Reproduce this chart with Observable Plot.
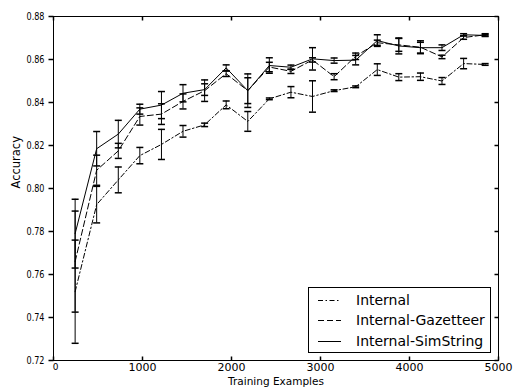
<!DOCTYPE html>
<html><head><meta charset="utf-8">
<script src="https://cdn.jsdelivr.net/npm/d3@7"></script>
<script src="https://cdn.jsdelivr.net/npm/@observablehq/plot@0.6"></script>
<style>
body{margin:0;background:#fff;}
#wrap{position:relative;width:515px;height:390px;font-family:"DejaVu Sans",sans-serif;}
#legend{position:absolute;left:308px;top:287px;width:181px;height:64px;border:1px solid #000;background:#fff;}
.row{position:absolute;left:0;height:20px;line-height:20px;font-size:14px;white-space:nowrap;color:#000;}
.row svg{position:absolute;left:9px;top:9px;}
.row span{position:absolute;left:47px;top:0;}
</style></head><body><div id="wrap"></div>
<script>
const trainSizes = [243, 485, 728, 970, 1213, 1455, 1698, 1940, 2183, 2425, 2668, 2910, 3153, 3395, 3638, 3880, 4123, 4365, 4608, 4850];

const internalMean = [0.752, 0.7925, 0.804, 0.8153, 0.8205, 0.8266, 0.8296, 0.8389, 0.8312, 0.8417, 0.8448, 0.8428, 0.8455, 0.8473, 0.8553, 0.8518, 0.852, 0.850, 0.8581, 0.8577];
const internalErr  = [0.024, 0.0085, 0.006, 0.0038, 0.007, 0.0027, 0.0008, 0.0018, 0.0046, 0.0004, 0.0026, 0.0073, 0.0004, 0.0004, 0.0027, 0.0016, 0.0017, 0.0016, 0.0024, 0.0004];

const gazetteerMean = [0.766, 0.8085, 0.8175, 0.8335, 0.8346, 0.8405, 0.8455, 0.8534, 0.8455, 0.8565, 0.8545, 0.8598, 0.852, 0.8615, 0.8678, 0.8668, 0.8657, 0.8612, 0.8702, 0.8715];
const gazetteerErr  = [0.0235, 0.007, 0.0035, 0.004, 0.0048, 0.0035, 0.005, 0.0013, 0.006, 0.0022, 0.001, 0.001, 0.0014, 0.0015, 0.0012, 0.003, 0.003, 0.0008, 0.0008, 0.0005];

const simStringMean = [0.779, 0.8185, 0.8253, 0.8369, 0.8388, 0.8443, 0.846, 0.8561, 0.8455, 0.8572, 0.8564, 0.8603, 0.8595, 0.8597, 0.8688, 0.8663, 0.8655, 0.8655, 0.8715, 0.8712];
const simStringErr  = [0.016, 0.008, 0.0064, 0.0023, 0.0063, 0.004, 0.0027, 0.0014, 0.0078, 0.0036, 0.001, 0.0052, 0.0012, 0.0022, 0.0027, 0.0037, 0.0025, 0.0013, 0.0005, 0.0005];

const seriesNames = ["Internal", "Internal-Gazetteer", "Internal-SimString"];
const xTicks = [0, 1000, 2000, 3000, 4000, 5000];
const yTicks = [0.72, 0.74, 0.76, 0.78, 0.80, 0.82, 0.84, 0.86, 0.88];

const dashes = ["5,2.5,1.5,2.5", "6,3", null];
const means = [internalMean, gazetteerMean, simStringMean];
const errs = [internalErr, gazetteerErr, simStringErr];

const series = seriesNames.map((name, s) => ({
  name, dash: dashes[s],
  rows: trainSizes.map((x, i) => ({series: name, x, y: means[s][i], lo: means[s][i] - errs[s][i], hi: means[s][i] + errs[s][i]}))
}));

const sym = (x1, y1, x2, y2) => ({draw(ctx) { ctx.moveTo(x1, y1); ctx.lineTo(x2, y2); }});
const capSym = sym(-3.5, 0, 3.5, 0);

const marks = [
  Plot.frame({stroke: "black", strokeWidth: 1}),
  Plot.axisX({ticks: xTicks, tickSize: 0, tickPadding: 3, tickFormat: d3.format("d"), label: null, fontSize: 11}),
  Plot.axisY({ticks: yTicks, tickSize: 0, tickPadding: 9, tickFormat: d3.format(".2f"), label: null, fontSize: 10.5}),
  Plot.dot(xTicks, {x: d => d, frameAnchor: "bottom", symbol: sym(0, 0, 0, -4), stroke: "black", fill: "none"}),
  Plot.dot(xTicks, {x: d => d, frameAnchor: "top", symbol: sym(0, 0, 0, 4), stroke: "black", fill: "none"}),
  Plot.dot(yTicks, {y: d => d, frameAnchor: "left", symbol: sym(0, 0, -5, 0), stroke: "black", fill: "none"}),
  Plot.dot(yTicks, {y: d => d, frameAnchor: "right", symbol: sym(0, 0, -4, 0), stroke: "black", fill: "none"}),
  Plot.text(["Accuracy"], {text: d => d, frameAnchor: "left", rotate: -90, dx: -37, fontSize: 11.5}),
  Plot.text(["Training Examples"], {text: d => d, frameAnchor: "bottom", dy: 24, fontSize: 10.5})
];
series.forEach(s => {
  marks.push(Plot.line(s.rows, {x: "x", y: "y", stroke: "black", strokeWidth: 1, strokeDasharray: s.dash}));
  marks.push(Plot.ruleX(s.rows, {x: "x", y1: "lo", y2: "hi", stroke: "black", strokeWidth: 1}));
  marks.push(Plot.dot(s.rows, {x: "x", y: "lo", symbol: capSym, stroke: "black", fill: "none"}));
  marks.push(Plot.dot(s.rows, {x: "x", y: "hi", symbol: capSym, stroke: "black", fill: "none"}));
});

const chart = Plot.plot({
  width: 515, height: 390,
  marginLeft: 53, marginRight: 17, marginTop: 16, marginBottom: 30,
  style: {fontFamily: "DejaVu Sans, sans-serif", fontSize: "11px", background: "#fff", color: "#000"},
  x: {domain: [0, 5000]},
  y: {domain: [0.72, 0.88]},
  marks
});
d3.select(chart).selectAll('g[aria-label="y-axis tick label"] text')
  .attr("textLength", 18).attr("lengthAdjust", "spacingAndGlyphs");
d3.select(chart).selectAll('g[aria-label="x-axis tick label"] text')
  .filter(function() { return this.textContent === "0"; })
  .attr("font-size", 9).attr("dx", 2);

const wrap = document.getElementById("wrap");
wrap.appendChild(chart);

const legend = document.createElement("div");
legend.id = "legend";
const rowCenters = [11.5, 31.5, 52.5];
seriesNames.forEach((name, i) => {
  const row = document.createElement("div");
  row.className = "row";
  row.style.top = (rowCenters[i] - 10) + "px";
  const dash = dashes[i] ? `stroke-dasharray="${dashes[i]}"` : "";
  row.innerHTML = `<svg width="23" height="3"><line x1="0" y1="1.5" x2="23" y2="1.5" stroke="black" stroke-width="1" ${dash}/></svg><span></span>`;
  row.querySelector("span").textContent = name;
  legend.appendChild(row);
});
wrap.appendChild(legend);
</script></body></html>
